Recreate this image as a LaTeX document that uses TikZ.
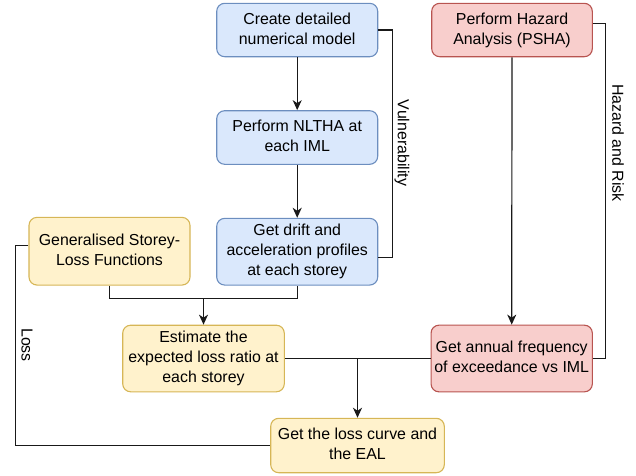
\documentclass[tikz,border=0pt]{standalone}
\usepackage{fontspec}
\setmainfont{Liberation Sans}
\usetikzlibrary{arrows.meta,calc}
\definecolor{bluefill}{HTML}{DAE8FC}
\definecolor{bluedraw}{HTML}{6C8EBF}
\definecolor{redfill}{HTML}{F8CECC}
\definecolor{reddraw}{HTML}{B85450}
\definecolor{yelfill}{HTML}{FFF2CC}
\definecolor{yeldraw}{HTML}{D6B656}
% centred stack of lines inside a box
\newcommand{\boxlines}[1]{\begin{tabular}{@{}c@{}}#1\end{tabular}}
\tikzset{
  box/.style={rectangle, rounded corners=8pt, line width=1.1pt,
    inner sep=0pt, font=\fontsize{15.9}{20}\selectfont},
  bluebox/.style={box, fill=bluefill, draw=bluedraw},
  redbox/.style={box, fill=redfill, draw=reddraw},
  yelbox/.style={box, fill=yelfill, draw=yeldraw},
  link/.style={line width=1.2pt, draw=black!90},
  arr/.style={link, -{Stealth[length=10pt,width=9pt,inset=3pt]}},
  sidelabel/.style={rotate=-90, font=\fontsize{15.9}{20}\selectfont, inner sep=0pt},
}
\begin{document}
\begin{tikzpicture}[x=1pt,y=-1pt]
\useasboundingbox (0,0) rectangle (636,475);

% vulnerability branch
\node[bluebox, minimum width=161pt, minimum height=53.4pt] (model) at (297.2,30) {\boxlines{Create detailed\\numerical model}};
\node[bluebox, minimum width=161pt, minimum height=53.6pt] (nltha) at (297.2,137.5) {\boxlines{Perform NLTHA at\\each IML}};
\node[bluebox, minimum width=161pt, minimum height=66.7pt] (drift) at (297.2,251.7) {\boxlines{Get drift and\\acceleration profiles\\at each storey}};

% hazard branch
\node[redbox, minimum width=160.6pt, minimum height=53.4pt] (psha) at (512,30) {\boxlines{Perform Hazard\\Analysis (PSHA)}};
\node[redbox, minimum width=161.3pt, minimum height=66.7pt] (freq) at (511.7,358.5) {\boxlines{Get annual frequency\\of exceedance vs IML}};

% loss branch
\node[yelbox, minimum width=161pt, minimum height=67.7pt] (gslf) at (109.5,251.2) {\boxlines{Generalised Storey-\\Loss Functions}};
\node[yelbox, minimum width=161.6pt, minimum height=66.6pt] (elr) at (203.5,358.5) {\boxlines{Estimate the\\expected loss ratio at\\each storey}};
\node[yelbox, minimum width=173.6pt, minimum height=54.4pt] (eal) at (357.5,445.5) {\boxlines{Get the loss curve and\\the EAL}};

% main flow
\draw[arr] (model) -- (nltha);
\draw[arr] (nltha) -- (drift);
\draw[arr] (psha) -- (freq);
\coordinate (merge) at (203.5,298.3);
\draw[link] (gslf.south) |- (merge) -| (drift.south);
\draw[arr] (merge) -- (elr.north);
\draw[link] (elr.east) -- (freq.west);
\coordinate (split) at (357.5,358.5);
\draw[arr] (split) -- (eal.north);

% group brackets
\draw[link] (model.east) -- ++(14.5,0) |- ([yshift=-6pt]drift.east);
\node[sidelabel] (vlab) at (402,143) {Vulnerability};
\draw[link] ([yshift=6.7pt]psha.east) -- ++(12.6,0) |- (freq.east);
\node[sidelabel] (hlab) at (618,143) {Hazard and Risk};
\draw[link] ([yshift=6pt]gslf.west) -- ++(-13.3,0) |- (eal.west);
\node[sidelabel] (llab) at (27,345) {Loss};
\end{tikzpicture}
\end{document}
